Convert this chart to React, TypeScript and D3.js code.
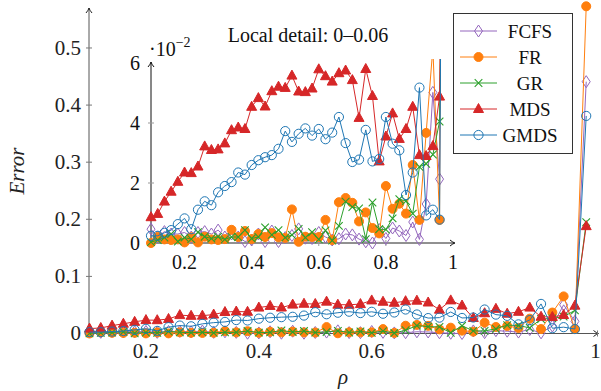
import React from 'react';
import * as d3 from 'd3';

// rho grid
const rho = [0.10, 0.12, 0.14, 0.16, 0.18, 0.20, 0.22, 0.24, 0.26, 0.28, 0.30, 0.32, 0.34, 0.36, 0.38, 0.40, 0.42, 0.44, 0.46, 0.48, 0.50, 0.52, 0.54, 0.56, 0.58, 0.60, 0.62, 0.64, 0.66, 0.68, 0.70, 0.72, 0.74, 0.76, 0.78, 0.80, 0.82, 0.84, 0.86, 0.88, 0.90, 0.92, 0.94, 0.96, 0.98];

// Error values, in units of 1e-2
const FCFS = [0.46, 0.2, 0.38, 0.3, 0.3, 0.35, 0.2, 0.35, 0.38, 0.3, 0.43, 0.2, 0.3, 0.2, 0.05, 0.1, 0.3, 0.05, 0.4, 0.05, 0.18, 0.25, 0.47, 0.16, 0.15, 0.35, 0.2, 0.1, 0.14, 0.3, 0.27, 0.13, 0.04, 0.0, 0.45, 0.15, 0.5, 0.4, 0.25, 0.7, 0.12, 1.3, 5.02, 2.13, 44.1];
const FR = [0.0, 0.2, 0.12, 0.1, 0.12, 0.02, 0.19, 0.02, 0.21, 0.12, 0.1, 0.13, 0.44, 0.2, 0.4, 0.13, 0.3, 0.2, 0.33, 0.19, 0.17, 1.12, 0.04, 0.21, 0.2, 0.2, 0.77, 0.1, 1.36, 1.5, 1.34, 0.72, 1.02, 0.5, 0.32, 1.9, 1.14, 1.31, 0.98, 2.6, 0.77, 3.67, 6.5, 0.77, 57.3];
const GR = [0.03, 0.1, 0.18, 0.3, 0.05, 0.18, 0.13, 0.36, 0.21, 0.15, 0.21, 0.12, 0.2, 0.2, 0.43, 0.15, 0.2, 0.52, 0.27, 0.43, 0.18, 0.27, 0.47, 0.18, 0.36, 0.12, 0.42, 0.08, 0.57, 1.38, 1.2, 1.15, 0.13, 1.35, 0.46, 0.45, 0.82, 1.46, 1.4, 0.98, 2.54, 2.64, 2.95, 4.05, 19.5];
const MDS = [0.86, 0.97, 1.38, 1.71, 2.04, 2.35, 2.33, 2.55, 3.22, 3.1, 3.12, 3.32, 3.76, 3.85, 3.8, 4.54, 4.83, 4.55, 5.06, 5.21, 5.17, 5.58, 5.05, 5.03, 5.15, 5.79, 5.56, 5.38, 5.66, 5.75, 5.43, 4.17, 5.8, 4.9, 2.72, 3.55, 4.32, 3.47, 3.8, 4.54, 2.93, 2.9, 3.23, 4.88, 18.8];
const GMDS = [0.24, 0.24, 0.34, 0.43, 0.63, 0.82, 0.46, 1.11, 1.39, 1.26, 1.69, 1.9, 2.03, 2.35, 2.28, 2.6, 2.76, 2.86, 2.93, 3.14, 3.73, 3.37, 3.64, 3.82, 3.58, 3.8, 3.46, 3.68, 4.2, 3.33, 2.7, 2.78, 3.77, 2.72, 2.8, 4.2, 3.31, 3.09, 1.6, 2.35, 5.18, 0.92, 1.11, 0.78, 38.1];

const seriesNames = ['FCFS', 'FR', 'GR', 'MDS', 'GMDS'];
const seriesColors = ['#9467bd', '#ff7f0e', '#2ca02c', '#d62728', '#1f77b4'];
const seriesMarkers = ['diamond', 'dot', 'cross', 'triangle', 'circle'];
const seriesValues = [FCFS, FR, GR, MDS, GMDS];

const mainYTicks = [0, 0.1, 0.2, 0.3, 0.4, 0.5];
const mainXTicks = [0.2, 0.4, 0.6, 0.8, 1];
const insetYTicks = [0, 2, 4, 6];
const insetXTicks = [0.2, 0.4, 0.6, 0.8, 1];

const FONT = "'Liberation Serif'";

const xMain = d3.scaleLinear().domain([0.1, 1]).range([89.5, 597.5]);
const yMain = d3.scaleLinear().domain([0, 0.57]).range([333.5, 8]);
const xIn = d3.scaleLinear().domain([0.1, 1]).range([151, 453]);
const yIn = d3.scaleLinear().domain([0, 6]).range([243, 63]);

function Marker({ type, x, y, color }: { type: string; x: number; y: number; color: string }) {
  if (type === 'diamond') {
    return <path d={`M${x},${y - 6}L${x + 4},${y}L${x},${y + 6}L${x - 4},${y}Z`} fill="none" stroke={color} strokeWidth={1} />;
  }
  if (type === 'dot') {
    return <circle cx={x} cy={y} r={4.5} fill={color} stroke={color} />;
  }
  if (type === 'cross') {
    return <path d={`M${x - 3.8},${y - 3.8}L${x + 3.8},${y + 3.8}M${x - 3.8},${y + 3.8}L${x + 3.8},${y - 3.8}`} stroke={color} strokeWidth={1.1} />;
  }
  if (type === 'triangle') {
    return <path d={`M${x},${y - 5.5}L${x + 5},${y + 3.5}L${x - 5},${y + 3.5}Z`} fill={color} stroke={color} />;
  }
  return <circle cx={x} cy={y} r={4.6} fill="none" stroke={color} strokeWidth={1} />;
}

function Arrow({ x, y, dir, color }: { x: number; y: number; dir: 'up' | 'right'; color: string }) {
  if (dir === 'up') {
    return <path d={`M${x - 3},${y + 5} Q${x - 0.5},${y + 2} ${x},${y} Q${x + 0.5},${y + 2} ${x + 3},${y + 5}`} fill="none" stroke={color} strokeWidth={1} />;
  }
  return <path d={`M${x - 5},${y - 3} Q${x - 2},${y - 0.5} ${x},${y} Q${x - 2},${y + 0.5} ${x - 5},${y + 3}`} fill="none" stroke={color} strokeWidth={1} />;
}

function T(props: any) {
  const { children, ...rest } = props;
  return <text {...rest} style={{ fontFamily: FONT }}>{children}</text>;
}

export default function App() {
  const mainLine = (vals: number[]) =>
    d3.line<number>().x((_, i) => xMain(rho[i])).y((v) => yMain(v / 100))(vals) || '';
  const inLine = (vals: number[]) =>
    d3.line<number>().x((_, i) => xIn(rho[i])).y((v) => yIn(v))(vals) || '';

  const legendRows = [31, 57, 83, 109, 135];

  return (
    <svg width={601} height={391} style={{ position: 'absolute', left: 0, top: 0, background: 'white' }}>
      <defs>
        <clipPath id="insetClip">
          <rect x={140} y={59} width={320} height={200} />
        </clipPath>
      </defs>

      {/* Main axes */}
      <line x1={xMain(0.1)} x2={598} y1={yMain(0)} y2={yMain(0)} stroke="#555" strokeWidth={1} />
      <line x1={89} x2={89} y1={yMain(0)} y2={8} stroke="#555" strokeWidth={1} />
      <Arrow x={89} y={8} dir="up" color="#222" />
      <Arrow x={598.5} y={yMain(0)} dir="right" color="#222" />
      {mainYTicks.map((t) => (
        <g key={'my' + t}>
          {t > 0 && <line x1={86} x2={92} y1={yMain(t)} y2={yMain(t)} stroke="#777" />}
          <T x={81} y={yMain(t)} dy="0.33em" textAnchor="end" fontSize={21} fill="#222">{t}</T>
        </g>
      ))}
      {mainXTicks.map((t) => (
        <g key={'mx' + t}>
          <line x1={xMain(t)} x2={xMain(t)} y1={yMain(0) - 3} y2={yMain(0) + 3} stroke="#777" />
          <T x={xMain(t) - (t === 1 ? 2 : 0)} y={358} textAnchor="middle" fontSize={21} fill="#222">{t}</T>
        </g>
      ))}
      <T x={17} y={171} transform="rotate(-90 17 171)" dy="0.33em" textAnchor="middle" fontSize={21} fontStyle="italic" fill="#222">Error</T>
      <T x={343} y={384} textAnchor="middle" fontSize={21} fontStyle="italic" fill="#222">ρ</T>

      {/* Main series */}
      {seriesValues.map((vals, s) => (
        <g key={'ms' + s}>
          <path d={mainLine(vals)} fill="none" stroke={seriesColors[s]} strokeWidth={1} />
          {vals.map((v, i) => (
            <Marker key={i} type={seriesMarkers[s]} x={xMain(rho[i])} y={yMain(v / 100)} color={seriesColors[s]} />
          ))}
        </g>
      ))}

      {/* Inset */}
      <T x={308} y={42} textAnchor="middle" fontSize={20} fill="#111">Local detail: 0–0.06</T>
      <T x={149} y={56} fontSize={20} fill="#111">·10<tspan dy={-9} fontSize={14}>−2</tspan></T>
      <line x1={151} x2={454} y1={yIn(0)} y2={yIn(0)} stroke="#222" strokeWidth={1} />
      <line x1={151} x2={151} y1={yIn(0)} y2={62} stroke="#111" strokeWidth={1} />
      <Arrow x={151} y={62} dir="up" color="#111" />
      <Arrow x={455} y={yIn(0)} dir="right" color="#111" />
      {insetYTicks.map((t) => (
        <g key={'iy' + t}>
          {t > 0 && t < 6 && <line x1={148} x2={154} y1={yIn(t)} y2={yIn(t)} stroke="#999" />}
          <T x={140} y={yIn(t)} dy="0.33em" textAnchor="end" fontSize={20} fill="#111">{t}</T>
        </g>
      ))}
      {insetXTicks.map((t) => (
        <g key={'ix' + t}>
          {t < 1 && <line x1={xIn(t)} x2={xIn(t)} y1={yIn(0) - 3} y2={yIn(0) + 3} stroke="#999" />}
          <T x={xIn(t)} y={269} textAnchor="middle" fontSize={20} fill="#111">{t}</T>
        </g>
      ))}
      <g clipPath="url(#insetClip)">
        {seriesValues.map((vals, s) => (
          <g key={'is' + s}>
            <path d={inLine(vals)} fill="none" stroke={seriesColors[s]} strokeWidth={1} />
            {vals.map((v, i) =>
              v <= 6.2 ? (
                <Marker key={i} type={seriesMarkers[s]} x={xIn(rho[i])} y={yIn(v)} color={seriesColors[s]} />
              ) : null
            )}
          </g>
        ))}
      </g>

      {/* Legend */}
      <rect x={453.5} y={13.5} width={119} height={140} fill="white" stroke="#333" strokeWidth={1} />
      {seriesNames.map((n, s) => (
        <g key={'lg' + n}>
          <line x1={460} x2={497} y1={legendRows[s]} y2={legendRows[s]} stroke={seriesColors[s]} strokeWidth={1} />
          <Marker type={seriesMarkers[s]} x={478.5} y={legendRows[s]} color={seriesColors[s]} />
          <T x={530} y={legendRows[s]} dy="0.35em" textAnchor="middle" fontSize={19} fill="#111">{n}</T>
        </g>
      ))}
    </svg>
  );
}
